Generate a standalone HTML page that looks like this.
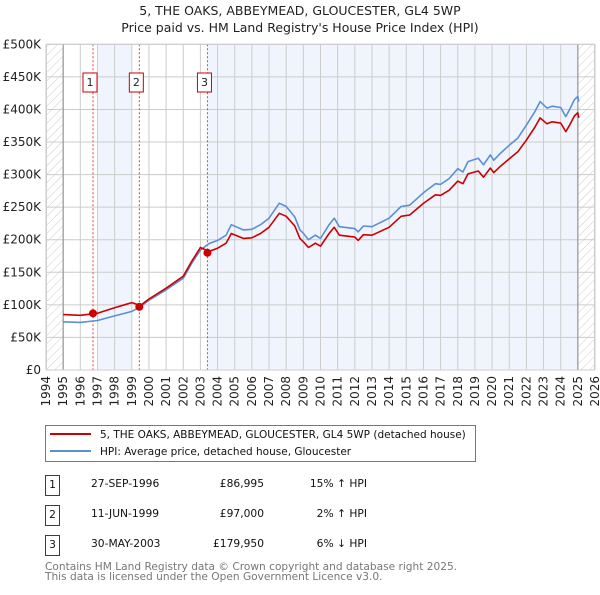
<!DOCTYPE html>
<html><head><meta charset="utf-8"><style>
body{margin:0;background:#fff;font-family:"Liberation Sans","DejaVu Sans",sans-serif;}
svg text{font-family:"DejaVu Sans","Liberation Sans",sans-serif;}
</style></head><body>
<svg id="chart" width="600" height="590" xmlns="http://www.w3.org/2000/svg">
<defs><pattern id="hatch" width="6" height="6" patternUnits="userSpaceOnUse" patternTransform="rotate(45)"><line x1="0" y1="0" x2="0" y2="6" stroke="#ccc" stroke-width="1"/></pattern></defs>
<text x="300" y="15" text-anchor="middle" font-size="12.5" fill="#222">5, THE OAKS, ABBEYMEAD, GLOUCESTER, GL4 5WP</text>
<text x="300" y="32" text-anchor="middle" font-size="12.5" fill="#222">Price paid vs. HM Land Registry's House Price Index (HPI)</text>
<g id="plot"></g>
<g>
<rect x="45.5" y="425.5" width="430" height="36" fill="#fff" stroke="#777"/>
<line x1="50" y1="434" x2="91" y2="434" stroke="#cc0000" stroke-width="2"/>
<text x="100" y="438" font-size="10.5" fill="#111">5, THE OAKS, ABBEYMEAD, GLOUCESTER, GL4 5WP (detached house)</text>
<line x1="50" y1="451" x2="91" y2="451" stroke="#5b8fd4" stroke-width="2"/>
<text x="100" y="455" font-size="10.5" fill="#111">HPI: Average price, detached house, Gloucester</text>
</g>
<g font-size="10.7" fill="#111">
<rect x="45.5" y="475.5" width="14" height="20" fill="#fff" stroke="#cc0000"/><text x="52.5" y="488" text-anchor="middle">1</text>
<text x="91" y="487">27-SEP-1996</text><text x="264" y="487" text-anchor="end">£86,995</text><text x="367" y="487" text-anchor="end">15% ↑ HPI</text>
<rect x="45.5" y="505.5" width="14" height="20" fill="#fff" stroke="#cc0000"/><text x="52.5" y="518" text-anchor="middle">2</text>
<text x="91" y="517">11-JUN-1999</text><text x="264" y="517" text-anchor="end">£97,000</text><text x="367" y="517" text-anchor="end">2% ↑ HPI</text>
<rect x="45.5" y="535.5" width="14" height="20" fill="#fff" stroke="#cc0000"/><text x="52.5" y="548" text-anchor="middle">3</text>
<text x="91" y="547">30-MAY-2003</text><text x="264" y="547" text-anchor="end">£179,950</text><text x="367" y="547" text-anchor="end">6% ↓ HPI</text>
</g>
<text x="45" y="570" font-size="10.6" fill="#777">Contains HM Land Registry data © Crown copyright and database right 2025.</text>
<text x="45" y="580" font-size="10.6" fill="#777">This data is licensed under the Open Government Licence v3.0.</text>
</svg>
<script>
const hpiYears=[1995,1996,1997,1998,1999,1999.5,2000,2001,2002,2002.5,2003,2003.5,2004,2004.5,2004.8,2005.5,2006,2006.5,2007,2007.6,2008,2008.5,2008.8,2009,2009.3,2009.7,2010,2010.5,2010.8,2011.1,2012,2012.2,2012.5,2013,2014,2014.7,2015.2,2016,2016.7,2017,2017.5,2018,2018.3,2018.6,2019.2,2019.5,2019.9,2020.1,2020.5,2021,2021.5,2022,2022.5,2022.8,2023.2,2023.5,2024,2024.3,2024.5,2024.8,2025,2025.05];
const hpiValues=[74,73,76,83,90,97,107,123,141,164,184,194,199,207,223,215,216,223,233,256,251,235,215,210,200,207,202,223,233,220,217,212,221,220,233,251,253,272,286,285,294,309,304,320,325,315,330,322,333,345,356,376,397,412,402,405,403,389,399,415,420,412];
const priceValues=[85,84,87,95.5,103.5,99,109,125.5,144,167,188,182,187,194.6,209.6,202,203,209.6,219,240.6,236,221,202,197,188,194.6,190,209.6,219,207,204,199,207.7,207,219,236,238,255.7,269,268,276,290,286,301,305.5,296,310,303,313,324,335,353,373,387,378,381,379,366,375,390,395,387];
const saleYears=[1996.74,1999.44,2003.41];
const salePrices=[86.995,97,179.95];
const saleLabels=["1","2","3"];
const yTicks=[0,50,100,150,200,250,300,350,400,450,500];
const yTickLabels=["£0","£50K","£100K","£150K","£200K","£250K","£300K","£350K","£400K","£450K","£500K"];
const xTicks=[1994,1995,1996,1997,1998,1999,2000,2001,2002,2003,2004,2005,2006,2007,2008,2009,2010,2011,2012,2013,2014,2015,2016,2017,2018,2019,2020,2021,2022,2023,2024,2025,2026];

const X0=46,X1=595,Y0=370,Y1=44.3;
const xs=y=>X0+(y-1994)/(2026-1994)*(X1-X0);
const ys=v=>Y0-v/500*(Y0-Y1);
const NS="http://www.w3.org/2000/svg";
const g=document.getElementById('plot');
function mk(t,a){const e=document.createElementNS(NS,t);for(const k in a)e.setAttribute(k,a[k]);g.appendChild(e);return e;}
let e;
e=mk('rect',{x:xs(1997),y:Y1,width:xs(1999)-xs(1997),height:Y0-Y1,fill:'#f0f5fd'});


e=mk('rect',{x:xs(saleYears[2]),y:Y1,width:xs(2025)-xs(saleYears[2]),height:Y0-Y1,fill:'#f0f5fd'});


e=mk('rect',{x:xs(1994),y:Y1,width:xs(1995)-xs(1994),height:Y0-Y1,fill:'url(#hatch)'});


e=mk('rect',{x:xs(2025),y:Y1,width:xs(2026)-xs(2025),height:Y0-Y1,fill:'url(#hatch)'});


yTicks.forEach((v,i)=>{
 const l=mk('line',{x1:X0,x2:X1,y1:ys(v),y2:ys(v),stroke:'#ccc','stroke-width':1});
 
 
 const t=mk('text',{x:X0-5,y:ys(v)+4,'text-anchor':'end','font-size':12,fill:'#222'});
 t.textContent=yTickLabels[i];
 
 
});
xTicks.forEach(y=>{
 const l=mk('line',{x1:xs(y),x2:xs(y),y1:Y1,y2:Y0,stroke:'#ccc','stroke-width':1});
 
 
 const t=mk('text',{x:0,y:0,'text-anchor':'end','font-size':12,fill:'#222',transform:`translate(${xs(y)+4},${Y0+6}) rotate(-90)`});
 t.textContent=y;
 
 
});
[1995,2025].forEach(y=>{const l=mk('line',{x1:xs(y),x2:xs(y),y1:Y1,y2:Y0,stroke:'#888','stroke-width':1});
 
 });
saleYears.forEach((y,i)=>{
 const l=mk('line',{x1:xs(y),x2:xs(y),y1:Y1,y2:Y0,stroke:'#e04040','stroke-width':1,'stroke-dasharray':'2,2'});
 
 
 const bx=xs(y)-3-7;
 const r=mk('rect',{x:bx,y:73,width:14,height:19,fill:'#fff',stroke:'#cc0000','stroke-width':1});
 
 
 const t=mk('text',{x:bx+7,y:86,'text-anchor':'middle','font-size':11,fill:'#222'});
 t.textContent=saleLabels[i];
 
 
});
const pts=(ys_,vs)=>ys_.map((y,i)=>xs(y).toFixed(1)+','+ys(vs[i]).toFixed(1)).join(' ');
e=mk('polyline',{points:pts(hpiYears,hpiValues),fill:'none',stroke:'#5b8fd4','stroke-width':1.6,'stroke-linejoin':'round'});


e=mk('polyline',{points:pts(hpiYears,priceValues),fill:'none',stroke:'#cc0000','stroke-width':1.6,'stroke-linejoin':'round'});


saleYears.forEach((y,i)=>{
 const c=mk('circle',{cx:xs(y),cy:ys(salePrices[i]),r:4,fill:'#cc0000'});
 
 
});
e=mk('rect',{x:X0+0.5,y:Y1,width:X1-X0-1,height:Y0-Y1,fill:'none',stroke:'#ccc'});


</script>
</body></html>
